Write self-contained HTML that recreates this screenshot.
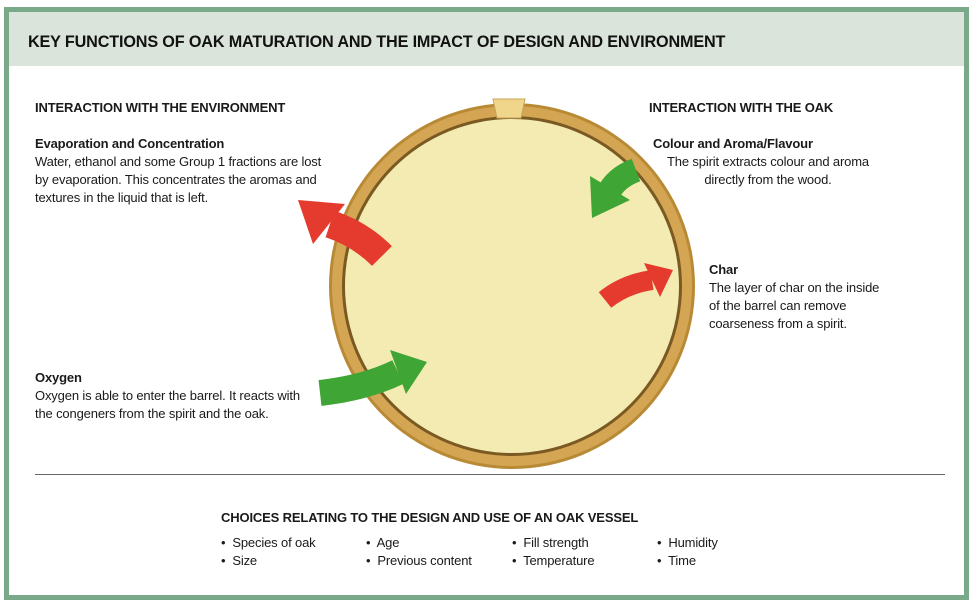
<!DOCTYPE html>
<html><head><meta charset="utf-8"><style>
body{margin:0;width:973px;height:605px;background:#fff;position:relative;overflow:hidden;font-family:"Liberation Sans",sans-serif;color:#1a1a1a}
.frame{position:absolute;left:4px;top:7px;width:955px;height:583px;border:5px solid #7aa989}
.hdr{position:absolute;left:9px;top:12px;width:955px;height:54px;background:#dae4da}
.hdr div{position:absolute;left:19px;top:21px;font-weight:bold;font-size:16.2px;letter-spacing:-0.15px;color:#111}
.t{position:absolute;font-size:13px;line-height:18px;white-space:nowrap;letter-spacing:-0.15px}
.b{font-weight:bold}
.line{position:absolute;left:35px;top:474px;width:910px;height:1px;background:#666}
</style></head><body>
<div class="frame"></div>
<div class="hdr"><div>KEY FUNCTIONS OF OAK MATURATION AND THE IMPACT OF DESIGN AND ENVIRONMENT</div></div>
<svg style="position:absolute;left:0;top:0" width="973" height="605">
<circle cx="512" cy="286" r="183" fill="#b98a35"/>
<circle cx="512" cy="286" r="180" fill="#d4a653"/>
<circle cx="512" cy="286" r="170" fill="#7a5a22"/>
<circle cx="512" cy="286" r="167" fill="#f3ebb2"/>
<polygon points="493,99 525,99 521,118 497,118" fill="#f0d68a" stroke="#c9a45a"/>
<path d="M382,256 Q360,234 330,224" fill="none" stroke="#e53b2f" stroke-width="28"/>
<polygon points="298,200 345,204 313,244" fill="#e53b2f"/>
<path d="M636,170 Q615,178 608,194" fill="none" stroke="#3fa535" stroke-width="24"/>
<polygon points="592,218 630,200 590,176" fill="#3fa535"/>
<path d="M605,300 Q625,284 652,280" fill="none" stroke="#e53b2f" stroke-width="20"/>
<polygon points="673,270 660,297 644,263" fill="#e53b2f"/>
<path d="M320,393 Q365,388 398,372" fill="none" stroke="#3fa535" stroke-width="26"/>
<polygon points="427,362 406,394 390,350" fill="#3fa535"/>
</svg>
<div class="t b" style="left:35px;top:99px">INTERACTION WITH THE ENVIRONMENT</div>
<div class="t b" style="left:35px;top:135px">Evaporation and Concentration</div>
<div class="t" style="left:35px;top:153px">Water, ethanol and some Group 1 fractions are lost<br>by evaporation. This concentrates the aromas and<br>textures in the liquid that is left.</div>
<div class="t b" style="left:35px;top:369px">Oxygen</div>
<div class="t" style="left:35px;top:387px">Oxygen is able to enter the barrel. It reacts with<br>the congeners from the spirit and the oak.</div>
<div class="t b" style="left:649px;top:99px">INTERACTION WITH THE OAK</div>
<div class="t b" style="left:653px;top:135px">Colour and Aroma/Flavour</div>
<div class="t" style="left:667px;top:153px;text-align:center">The spirit extracts colour and aroma<br>directly from the wood.</div>
<div class="t b" style="left:709px;top:261px">Char</div>
<div class="t" style="left:709px;top:279px">The layer of char on the inside<br>of the barrel can remove<br>coarseness from a spirit.</div>
<div class="line"></div>
<div class="t b" style="left:221px;top:509px">CHOICES RELATING TO THE DESIGN AND USE OF AN OAK VESSEL</div>
<div class="t" style="left:221px;top:534px">•&nbsp; Species of oak<br>•&nbsp; Size</div>
<div class="t" style="left:366px;top:534px">•&nbsp; Age<br>•&nbsp; Previous content</div>
<div class="t" style="left:512px;top:534px">•&nbsp; Fill strength<br>•&nbsp; Temperature</div>
<div class="t" style="left:657px;top:534px">•&nbsp; Humidity<br>•&nbsp; Time</div>
</body></html>
